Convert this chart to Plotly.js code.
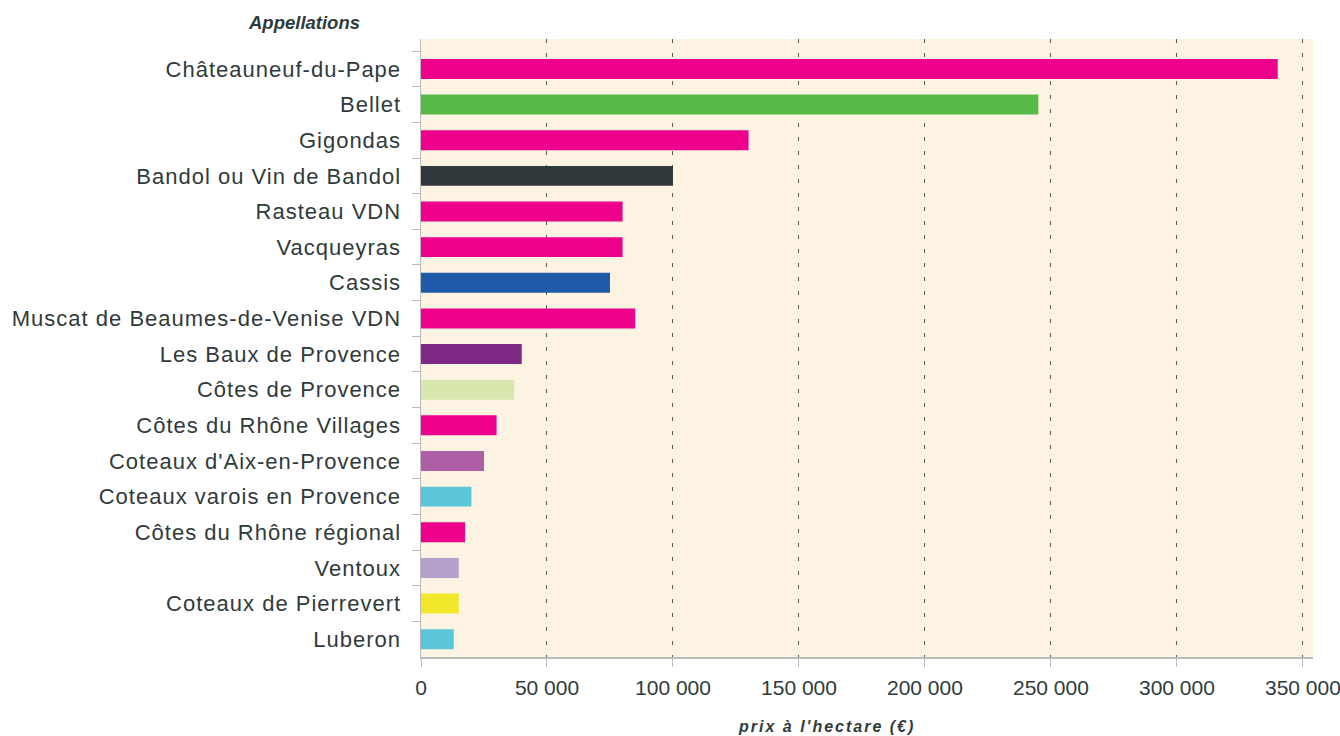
<!DOCTYPE html>
<html><head><meta charset="utf-8">
<script src="https://cdn.plot.ly/plotly-3.0.1.min.js"></script>
<style>html,body{margin:0;padding:0;background:#fff}#chart{width:1340px;height:736px}
.ytick text{letter-spacing:1px}
</style>
</head><body><div id="chart"></div>
<script>
const appellations = ["Châteauneuf-du-Pape","Bellet","Gigondas","Bandol ou Vin de Bandol","Rasteau VDN","Vacqueyras","Cassis","Muscat de Beaumes-de-Venise VDN","Les Baux de Provence","Côtes de Provence","Côtes du Rhône Villages","Coteaux d'Aix-en-Provence","Coteaux varois en Provence","Côtes du Rhône régional","Ventoux","Coteaux de Pierrevert","Luberon"];
const prix = [340000,245000,130000,100000,80000,80000,75000,85000,40000,37000,30000,25000,20000,17500,15000,15000,13000];
const couleurs = ["#EC008C","#57B947","#EC008C","#2F383B","#EC008C","#EC008C","#1F5BA8","#EC008C","#7E2A84","#D8E7AE","#EC008C","#AD5EA5","#5BC6D9","#EC008C","#B59FCC","#F1E82C","#5BC6D9"];
const xTicks = [0,50000,100000,150000,200000,250000,300000,350000];

const trace = {type:"bar", orientation:"h", x:prix, y:appellations, marker:{color:couleurs}, hoverinfo:"x+y"};
const layout = {
  width:1340, height:736,
  margin:{l:421, r:27, t:39, b:79, pad:0},
  paper_bgcolor:"#ffffff", plot_bgcolor:"#FDF3E3",
  separators:", ",
  bargap:0.44,
  showlegend:false,
  font:{family:"Liberation Sans, Arial, sans-serif", color:"#2f3b3b"},
  xaxis:{range:[0,354000], tickvals:xTicks, tickformat:",d", showgrid:true, gridcolor:"#5a5a5a", griddash:"4px,10px", gridwidth:1,
    zeroline:false, showline:true, linecolor:"#bbbbbb", linewidth:1.5, ticks:"outside", ticklen:8, tickcolor:"#bbbbbb",
    ticklabeloverflow:"allow", ticklabelstandoff:3,
    tickfont:{family:"Liberation Sans, Arial, sans-serif", size:21, color:"#2f3b3b"}},
  yaxis:{type:"category", range:[16.5,-0.84], tickson:"boundaries", ticks:"outside", ticklen:8, tickcolor:"#bbbbbb",
    showline:true, linecolor:"#bbbbbb", linewidth:1.5, showgrid:false, ticklabelstandoff:14,
    tickfont:{size:22, color:"#2f3b3b", family:"Liberation Sans, Arial, sans-serif"}},
  annotations:[
    {text:"Appellations", xref:"paper", yref:"paper", x:-0.1314, y:1, yshift:4, xanchor:"center", yanchor:"bottom", showarrow:false,
     font:{size:18.5, color:"#2f3b3b", family:"Liberation Sans, Arial, sans-serif", weight:"bold", style:"italic"}},
    {text:"prix à l'hectare (€)", xref:"paper", yref:"paper", x:0.455, y:0, yshift:-59, xanchor:"center", yanchor:"top", showarrow:false,
     font:{size:16, color:"#2f3b3b", family:"Liberation Sans, Arial, sans-serif", weight:"bold", style:"italic"}}
  ]
};
Plotly.newPlot("chart",[trace],layout,{displayModeBar:false, staticPlot:true}).then(function(gd){
  const anns = gd.querySelectorAll(".annotation-text");
  anns.forEach(function(t){ if(t.textContent.indexOf("prix")===0){ t.style.letterSpacing="2px"; } });
});
</script></body></html>
